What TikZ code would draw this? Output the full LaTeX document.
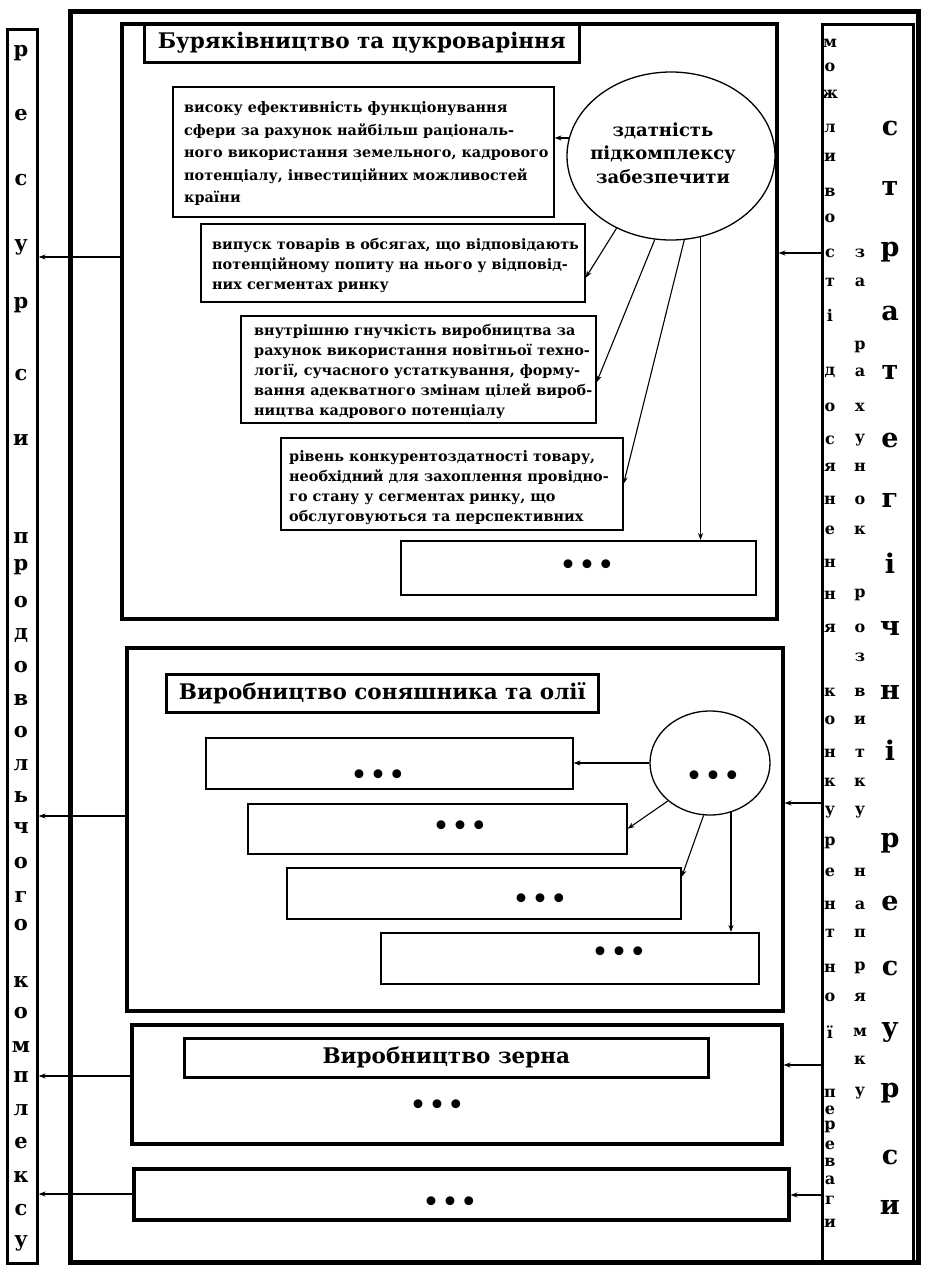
\documentclass[tikz,border=0pt]{standalone}
\usepackage{fontspec}
\setmainfont{DejaVu Serif}
\newfontfamily\dsans{DejaVu Sans}
\usetikzlibrary{arrows.meta,shapes.geometric,calc}
\newcommand\mkbox[6]{\node[#2,minimum width={#5pt-#3pt},minimum height={#6pt-#4pt},anchor=north west] (#1) at (#3,#4) {};}
\newcommand\threedots{{\dsans\bfseries •\kern3pt•\kern3pt•}}
\begin{document}
\begin{tikzpicture}[x=1pt,y=-1pt,
  framest/.style={draw,line width=5pt,inner sep=0pt},
  colst/.style={draw,line width=2.6pt,inner sep=0pt},
  secbox/.style={draw,line width=3.5pt,inner sep=0pt},
  ttlbox/.style={draw,line width=2.6pt,inner sep=0pt,font=\bfseries\fontsize{21.5}{24}\selectfont},
  itbox/.style={draw,line width=1.6pt,inner sep=0pt},
  ittext/.style={anchor=west,inner sep=0pt,align=left,font=\bfseries\fontsize{14.4}{20}\selectfont},
  dotst/.style={inner sep=0pt,font=\fontsize{25}{25}\selectfont},
  arr/.style={line width=1.1pt,-{Stealth[length=7pt,width=5pt]}},
  ellst/.style={draw,ellipse,line width=1.3pt,inner sep=0pt},
  elltext/.style={inner sep=0pt,align=center,font=\bfseries\fontsize{18}{23.5}\selectfont},
  lcl/.style={inner sep=0pt,font=\bfseries\fontsize{21}{21}\selectfont},
  rca/.style={inner sep=0pt,font=\bfseries\fontsize{16}{16}\selectfont},
  rcc/.style={inner sep=0pt,font=\bfseries\fontsize{27}{27}\selectfont}]
\useasboundingbox (0,0) rectangle (927,1269);
% outer frame and side columns
\mkbox{frame}{framest}{68}{9}{916}{1260}
\mkbox{leftcol}{colst}{6}{28}{36}{1262}
\mkbox{rightcol}{colst}{821}{23}{912}{1262}
% left column letters
\foreach \l/\y in {р/53,е/115,с/180,у/247,р/305,с/375,и/440,п/538,р/567,о/602,д/635,о/667,в/700,о/732,л/765,ь/797,ч/828,о/863,г/897,о/925,к/982,о/1013,м/1047,п/1077,л/1110,е/1143,к/1177,с/1210,у/1243}
  \node[lcl] (lc\y) at (21,\y) {\l};
% right column letters
\foreach \l/\y in {м/43,о/67,ж/94,л/128,и/157,в/192,о/218,с/253,т/282,і/315,д/372,о/407,с/440,я/467,н/500,е/530,н/563,н/595,я/628,к/692,о/720,н/753,к/782,у/812,р/843,е/872,н/905,т/933,н/968,о/997,ї/1032,п/1093,е/1110,р/1127,е/1145,в/1162,а/1180,г/1200,и/1223}
  \node[rca] (ra\y) at (830,\y) {\l};
\foreach \l/\y in {з/253,а/282,р/347,а/372,х/407,у/440,н/467,о/500,к/530,р/595,о/628,з/657,в/692,и/720,т/753,к/782,у/812,н/872,а/905,п/933,р/968,я/997,м/1032,к/1060,у/1093}
  \node[rca] (rb\y) at (860,\y) {\l};
\foreach \l/\y in {с/128,т/188,р/252,а/313,т/372,е/440,г/500,і/563,ч/628,н/692,і/750,р/843,е/903,с/968,у/1032,р/1093,с/1157,и/1207}
  \node[rcc] (rc\y) at (890,\y) {\l};
% ---------- section 1
\mkbox{sec1}{secbox}{120}{22}{775}{617}
\node[ttlbox,minimum width=435pt,minimum height=39pt,anchor=north west] (t1) at (143,22) {Буряківництво та цукроваріння};
\mkbox{b1a}{itbox}{172}{86}{553}{216}
\mkbox{b1b}{itbox}{200}{223}{584}{301}
\mkbox{b1c}{itbox}{240}{315}{595}{422}
\mkbox{b1d}{itbox}{280}{437}{622}{529}
\mkbox{b1e}{itbox}{400}{540}{755}{594}
\node[ittext,font=\bfseries\fontsize{14.4}{22.5}\selectfont] (b1at) at ($(b1a.west)+(12,2)$) {високу ефективність функціонування\\сфери за рахунок найбільш раціональ-\\ного використання земельного, кадрового\\потенціалу, інвестиційних можливостей\\країни};
\node[ittext] (b1bt) at ($(b1b.west)+(12,3)$) {випуск товарів в обсягах, що відповідають\\потенційному попиту на нього у відповід-\\них сегментах ринку};
\node[ittext] (b1ct) at ($(b1c.west)+(14,2)$) {внутрішню гнучкість виробництва за\\рахунок використання новітньої техно-\\логії, сучасного устаткування, форму-\\вання адекватного змінам цілей вироб-\\ництва кадрового потенціалу};
\node[ittext] (b1dt) at ($(b1d.west)+(9,4)$) {рівень конкурентоздатності товару,\\необхідний для захоплення провідно-\\го стану у сегментах ринку, що\\обслуговуються та перспективних};
\node[dotst] (b1ed) at (587,567) {\threedots};
\node[ellst,minimum width=208pt,minimum height=168pt] (e1) at (671,156) {};
\node[elltext] (e1t) at (663,153) {здатність\\підкомплексу\\забезпечити};
\draw[arr] (e1.170) -- (e1.170 -| b1a.east);
\draw[arr] (e1.233) -- ($(b1b.east)+(0,15)$);
\draw[arr] (e1.259) -- ($(b1c.east)+(0,13)$);
\draw[arr] (e1.279) -- (b1d.east);
\draw[arr] (e1.290) -- (e1.290 |- b1e.north);
% ---------- section 2
\mkbox{sec2}{secbox}{125}{646}{781}{1009}
\node[ttlbox,minimum width=432pt,minimum height=38pt,anchor=north west] (t2) at (165,673) {Виробництво соняшника та олії};
\mkbox{b2a}{itbox}{205}{737}{572}{788}
\mkbox{b2b}{itbox}{247}{803}{626}{853}
\mkbox{b2c}{itbox}{286}{867}{680}{918}
\mkbox{b2d}{itbox}{380}{932}{758}{983}
\node[dotst] (b2ad) at (378,777) {\threedots};
\node[dotst] (b2bd) at (460,828) {\threedots};
\node[dotst] (b2cd) at (540,901) {\threedots};
\node[dotst] (b2dd) at (619,954) {\threedots};
\node[ellst,minimum width=120pt,minimum height=104pt] (e2) at (710,763) {};
\node[dotst] (e2d) at (713,778) {\threedots};
\draw[arr] (e2.west) -- (e2.west -| b2a.east);
\draw[arr] (e2.222) -- (b2b.east);
\draw[arr] (e2.263) -- ($(b2c.north east)+(0,10)$);
\draw[arr] (e2.293) -- (e2.293 |- b2d.north);
% ---------- section 3
\mkbox{sec3}{secbox}{130}{1023}{780}{1142}
\node[ttlbox,minimum width=524pt,minimum height=39pt,anchor=north west] (t3) at (183,1037) {Виробництво зерна};
\node[dotst] (s3d) at (437,1107) {\threedots};
% ---------- bottom box
\mkbox{b4}{secbox}{132}{1167}{787}{1218}
\node[dotst] (b4d) at (450,1204) {\threedots};
% ---------- connectors to left column
\draw[arr] (sec1.west |- 0,257) -- (leftcol.east |- 0,257);
\draw[arr] (sec2.west |- 0,816) -- (leftcol.east |- 0,816);
\draw[arr] (sec3.west |- 0,1076) -- (leftcol.east |- 0,1076);
\draw[arr] (b4.west |- 0,1194) -- (leftcol.east |- 0,1194);
% ---------- connectors from right column
\draw[arr] (rightcol.west |- 0,253) -- (sec1.east |- 0,253);
\draw[arr] (rightcol.west |- 0,803) -- (sec2.east |- 0,803);
\draw[arr] (rightcol.west |- 0,1065) -- (sec3.east |- 0,1065);
\draw[arr] (rightcol.west |- 0,1195) -- (b4.east |- 0,1195);
\end{tikzpicture}
\end{document}
